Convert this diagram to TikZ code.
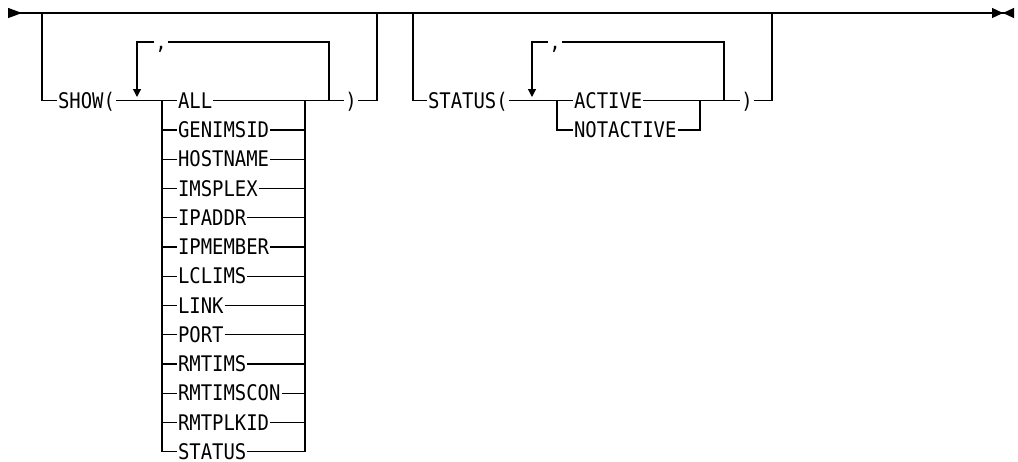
\documentclass[tikz,border=0pt]{standalone}
\usepackage{fontspec}
\newfontfamily\railfont[FakeStretch=0.88]{DejaVu Sans Mono}
\usetikzlibrary{arrows.meta,positioning}

\begin{document}
\begin{tikzpicture}[
    x=1pt, y=-1pt,
    kw/.style={anchor=west, inner xsep=1pt, inner ysep=0pt, outer sep=0pt, text height=15.5pt, text depth=0pt, font=\railfont\fontsize{21.5pt}{21.5pt}\selectfont},
    opt/.style={kw, below right=13.75pt and 0pt of #1.south west},
    sym/.style={kw, anchor=center},
    rail/.style={draw=black, line width=1.2pt},
    backarrow/.style={rail, -{Triangle[length=8pt, width=8pt]}}
]
\useasboundingbox (0,0) rectangle (1018,461);

% Main line
\coordinate (begin) at (8,13);
\coordinate (finish) at (1014,13);
\draw[rail, {Triangle[reversed, length=14pt, width=10pt]}-{Triangle[length=11pt, width=10pt, sep=0pt]Triangle[reversed, length=11pt, width=10pt, sep=0pt]}] (begin) -- (finish);

% SHOW( ... )
\coordinate (fork1) at (42,13);
\coordinate (join1) at (377,13);
\node[kw] (show) at (57,100.7) {SHOW(};
\node[kw] (all) at (177,100.7) {ALL};
\node[opt=all] (genimsid) {GENIMSID};
\node[opt=genimsid] (hostname) {HOSTNAME};
\node[opt=hostname] (imsplex) {IMSPLEX};
\node[opt=imsplex] (ipaddr) {IPADDR};
\node[opt=ipaddr] (ipmember) {IPMEMBER};
\node[opt=ipmember] (lclims) {LCLIMS};
\node[opt=lclims] (link) {LINK};
\node[opt=link] (port) {PORT};
\node[opt=port] (rmtims) {RMTIMS};
\node[opt=rmtims] (rmtimscon) {RMTIMSCON};
\node[opt=rmtimscon] (rmtplkid) {RMTPLKID};
\node[opt=rmtplkid] (statusopt) {STATUS};
\node[sym] (comma1) at (161,42) {,};
\node[sym] (rpar1) at (351,100.7) {)};
\coordinate (loopin1) at (137,97);
\coordinate (loopout1) at (329,100.7);
\coordinate (bl1) at (162,100.7);
\coordinate (br1) at (305,100.7);

% STATUS( ... )
\coordinate (fork2) at (413,13);
\coordinate (join2) at (772,13);
\node[kw] (statuskw) at (427,100.7) {STATUS(};
\node[kw] (active) at (573,100.7) {ACTIVE};
\node[opt=active] (notactive) {NOTACTIVE};
\node[sym] (comma2) at (555,42) {,};
\node[sym] (rpar2) at (747,100.7) {)};
\coordinate (loopin2) at (532,97);
\coordinate (loopout2) at (724,100.7);
\coordinate (bl2) at (557,100.7);
\coordinate (br2) at (700,100.7);

% Connectors
\draw[rail] (fork1) |- (show) -- (all) -- (rpar1) -| (join1);
\draw[rail] (loopout1) |- (comma1);
\draw[backarrow] (comma1) -| (loopin1);
\draw[rail] (bl1) |- (statusopt) -| (br1);
\draw[rail] (bl1 |- genimsid) -- (genimsid) -- (genimsid -| br1);
\draw[rail] (bl1 |- hostname) -- (hostname) -- (hostname -| br1);
\draw[rail] (bl1 |- imsplex) -- (imsplex) -- (imsplex -| br1);
\draw[rail] (bl1 |- ipaddr) -- (ipaddr) -- (ipaddr -| br1);
\draw[rail] (bl1 |- ipmember) -- (ipmember) -- (ipmember -| br1);
\draw[rail] (bl1 |- lclims) -- (lclims) -- (lclims -| br1);
\draw[rail] (bl1 |- link) -- (link) -- (link -| br1);
\draw[rail] (bl1 |- port) -- (port) -- (port -| br1);
\draw[rail] (bl1 |- rmtims) -- (rmtims) -- (rmtims -| br1);
\draw[rail] (bl1 |- rmtimscon) -- (rmtimscon) -- (rmtimscon -| br1);
\draw[rail] (bl1 |- rmtplkid) -- (rmtplkid) -- (rmtplkid -| br1);

\draw[rail] (fork2) |- (statuskw) -- (active) -- (rpar2) -| (join2);
\draw[rail] (loopout2) |- (comma2);
\draw[backarrow] (comma2) -| (loopin2);
\draw[rail] (bl2) |- (notactive) -| (br2);

\end{tikzpicture}
\end{document}
